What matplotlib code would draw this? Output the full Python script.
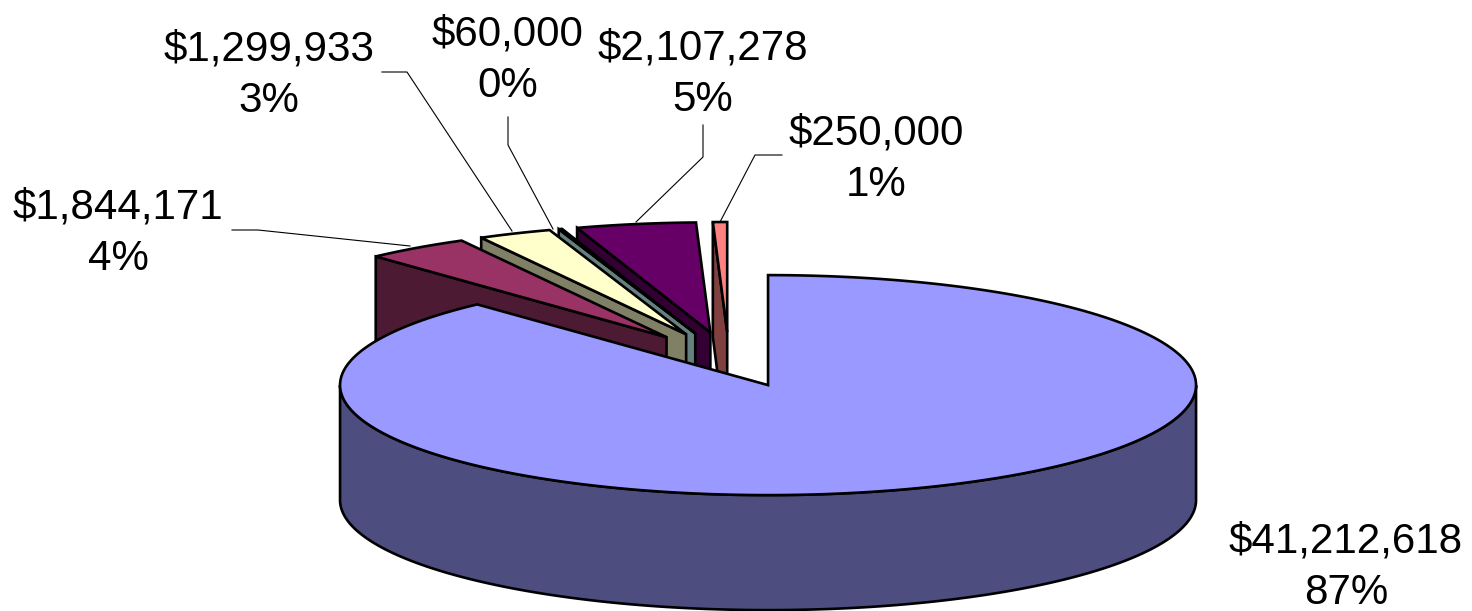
import numpy as np
import matplotlib
matplotlib.use('Agg')
import matplotlib.pyplot as plt

plt.rcParams['font.family'] = ['Liberation Sans', 'DejaVu Sans']

# Datos (sentido horario desde las 12)
values = [41212618, 1844171, 1299933, 60000, 2107278, 250000]
percents = [87, 4, 3, 0, 5, 1]
top_colors = ['#9999FF', '#993366', '#FFFFCC', '#CCFFFF', '#660066', '#FF8080']
side_colors = ['#4D4D80', '#4D1A33', '#808066', '#668080', '#330033', '#804040']

# Posicion de las etiquetas (centro del bloque de texto)
label_x = [1346, 118, 269, 508, 703, 876]
label_y = [567, 233, 75, 60, 74, 159]

# Lineas guia de las etiquetas
leaders = [
    [(232, 230), (258, 230), (410, 246)],
    [(382, 72), (407, 72), (512, 231)],
    [(508, 117), (508, 145), (553, 229)],
    [(703, 125), (703, 157), (636, 222)],
    [(782, 155), (755, 155), (720, 222)],
]

# Geometria del pastel
center_x, center_y = 729, 359.5
rx, ry = 428, 110
depth = 115
explode = 0.25
edge = 1.9

fig = plt.figure(figsize=(14.72, 6.11), dpi=100)
ax = fig.add_axes([0, 0, 1, 1])
ax.set_xlim(0, 1472)
ax.set_ylim(611, 0)
ax.axis('off')

total = sum(values)
sweeps = [v / total * 360 for v in values]
starts = np.cumsum([0] + sweeps[:-1])


def point(cx, cy, ang):
    rad = np.radians(ang)
    return cx + rx * np.sin(rad), cy - ry * np.cos(rad)


def slice_center(start, sweep):
    mx, my = point(0, 0, start + sweep / 2)
    return center_x + explode * mx, center_y + explode * my


for pts in leaders:
    xs, ys = zip(*pts)
    ax.plot(xs, ys, color='black', lw=0.8, zorder=1)

# Rebanadas pequenas: de derecha a izquierda, la pared y luego la tapa
for i in range(len(values) - 1, 0, -1):
    cx, cy = slice_center(starts[i], sweeps[i])
    ang = np.linspace(starts[i], starts[i] + sweeps[i], 30)
    ox, oy = point(cx, cy, ang)
    ax.fill([ox[0], cx, cx, ox[0]], [oy[0], cy, cy + depth, oy[0] + depth],
            facecolor=side_colors[i], edgecolor='black', lw=edge, joinstyle='miter', zorder=2)
    ax.fill(np.r_[cx, ox], np.r_[cy, oy],
            facecolor=top_colors[i], edgecolor='black', lw=edge, joinstyle='miter', zorder=2)

# Rebanada principal
cx, cy = slice_center(starts[0], sweeps[0])
front = np.linspace(90, 270, 200)
fx, fy = point(cx, cy, front)
ax.fill(np.r_[fx, fx[::-1]], np.r_[fy, fy[::-1] + depth],
        facecolor=side_colors[0], edgecolor='black', lw=edge, zorder=3)
ang = np.linspace(starts[0], starts[0] + sweeps[0], 400)
ox, oy = point(cx, cy, ang)
ax.fill(np.r_[cx, ox], np.r_[cy, oy],
        facecolor=top_colors[0], edgecolor='black', lw=edge, joinstyle='miter', zorder=3)

for v, p, x, y in zip(values, percents, label_x, label_y):
    ax.text(x, y, f'${v:,}\n{p}%', ha='center', va='center', ma='center',
            fontsize=30.3, linespacing=1.38, color='black', zorder=4)

fig.savefig('out.png', dpi=100)
